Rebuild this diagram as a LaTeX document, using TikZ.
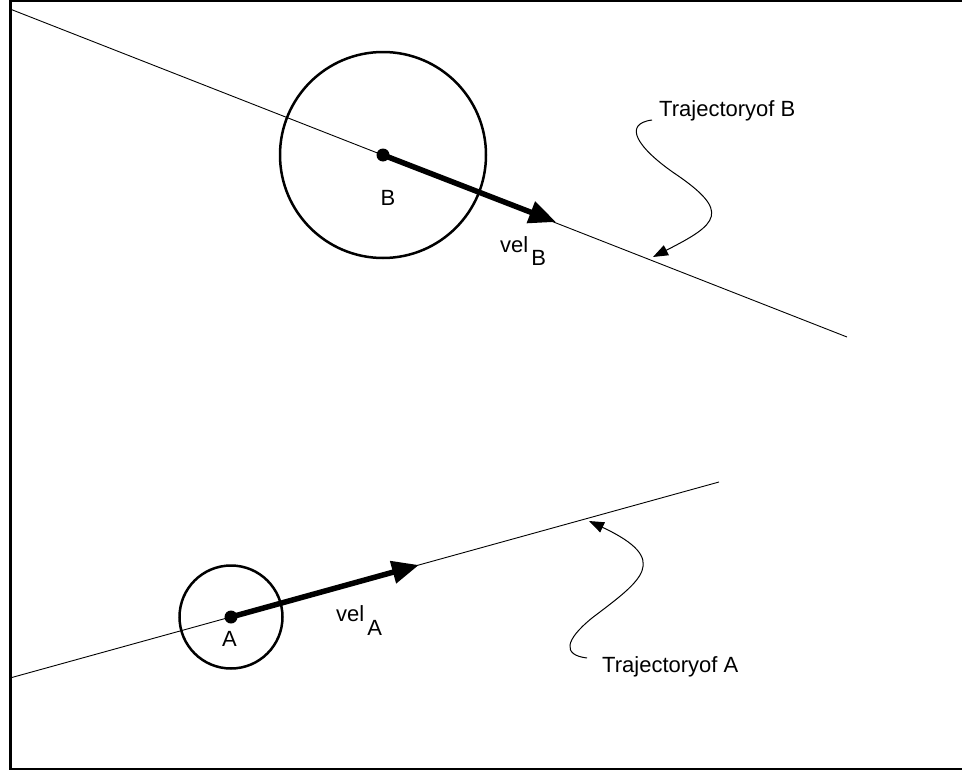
\documentclass[tikz,border=0pt]{standalone}
\usepackage{fontspec}
\setmainfont{Liberation Sans}
\usetikzlibrary{arrows.meta}
\begin{document}
\begin{tikzpicture}[x=1pt,y=-1pt,
  lbl/.style={font=\fontsize{22}{26}\selectfont, inner sep=0pt},
  traj/.style={line width=0.9pt},
  ball/.style={draw, line width=2.5pt},
  velarrow/.style={line width=5.5pt, -{Triangle[length=27pt,width=22pt]}},
  callout/.style={line width=1pt, -{Triangle[length=15pt,width=11pt]}},
  dotc/.style={circle, fill, inner sep=0pt, minimum size=13pt},
  frameline/.style={line width=2.5pt}]
\useasboundingbox (0,0) rectangle (962,771);
% frame
\draw[frameline] (10.5,0) -- (10.5,769.5);
\draw[line width=2pt] (9,1) -- (962,1);
\draw[line width=2pt] (9,769) -- (962,769);
% trajectories
\coordinate (B0) at (10,9);
\coordinate (B1) at (847,337);
\coordinate (A0) at (10,678);
\coordinate (A1) at (719,482);
\draw[traj] (B0) -- (B1);
\draw[traj] (A0) -- (A1);
% bodies
\node[dotc] (cB) at (383,155) {};
\node[dotc] (cA) at (231,617) {};
\draw[ball] (cB.center) circle (103);
\draw[ball] (cA.center) circle (51.5);
\coordinate (tipB) at (556,222);
\coordinate (tipA) at (419,565);
\draw[velarrow] (cB.center) -- (tipB);
\draw[velarrow] (cA.center) -- (tipA);
% labels
\node[lbl] (lB) at (388,198) {B};
\node[lbl] (lA) at (229.5,638.5) {A};
\node[lbl, anchor=base west] (vB) at (500,252) {vel\kern3pt\raisebox{-13pt}{B}};
\node[lbl, anchor=base west] (vA) at (336,621) {vel\kern3pt\raisebox{-14pt}{A}};
\node[lbl, anchor=base west] (tB) at (659,116.5) {Trajectoryof B};
\node[lbl, anchor=base west] (tA) at (602,672) {Trajectoryof A};
% callouts
\coordinate (sB) at (652,120);
\coordinate (eB) at (653,257);
\coordinate (sA) at (587,658);
\coordinate (eA) at (589,521);
\draw[callout] (sB) .. controls (622,124) and (638,148) .. (674,173)
  .. controls (732,212) and (718,224) .. (eB);
\draw[callout] (sA) .. controls (562,655) and (565,640) .. (592,618)
  .. controls (642,580) and (672,560) .. (eA);
\end{tikzpicture}
\end{document}
